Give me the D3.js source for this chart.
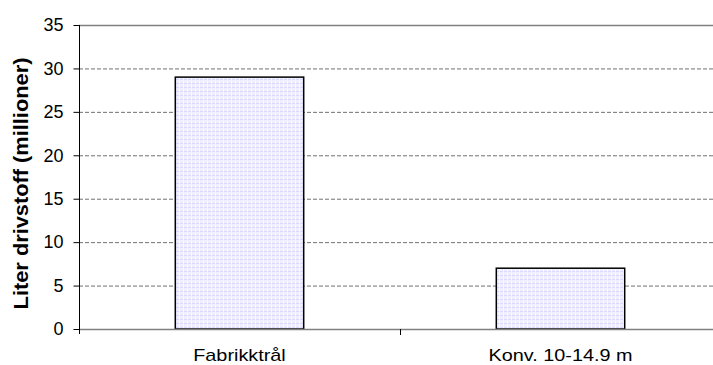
<!DOCTYPE html>
<html>
<head>
<meta charset="utf-8">
<script src="https://cdn.jsdelivr.net/npm/d3@7"></script>
<style>
  body { margin: 0; background: #fff; }
  svg { display: block; font-family: "Liberation Sans", Arial, sans-serif; }
</style>
</head>
<body>
<div id="chart"></div>
<script>
var categories = ["Fabrikktrål", "Konv. 10-14.9 m"];
var values = [29, 7];
var yTicks = [0, 5, 10, 15, 20, 25, 30, 35];
var yTitle = "Liter drivstoff (millioner)";

var svg = d3.select("#chart")
            .append("svg")
            .attr("width", 713)
            .attr("height", 365);

var margin = {top: 25, left: 79, bottom: 36},
    plotRight = 721,
    plotBottom = 365 - margin.bottom;

var x = d3.scaleBand().domain(categories).range([margin.left, plotRight]).padding(0);
var y = d3.scaleLinear().domain([0, 35]).range([plotBottom, margin.top]);

// bar fill pattern (light lavender grid)
var defs = svg.append("defs");
var pat = defs.append("pattern")
  .attr("id", "grid")
  .attr("patternUnits", "userSpaceOnUse")
  .attr("width", 4).attr("height", 4);
pat.append("rect").attr("width", 4).attr("height", 4).attr("fill", "#eeeeff");
pat.append("rect").attr("x", 0).attr("y", 3).attr("width", 4).attr("height", 1).attr("fill", "#dadaff");
pat.append("rect").attr("x", 3).attr("y", 0).attr("width", 1).attr("height", 4).attr("fill", "#f8f8ff");

// gridlines
svg.append("g")
  .selectAll("line")
  .data(yTicks.filter(function(d) { return d > 0 && d < 35; }))
  .enter()
  .append("line")
  .attr("x1", margin.left).attr("x2", plotRight)
  .attr("y1", function(d) { return y(d) + 0.5; })
  .attr("y2", function(d) { return y(d) + 0.5; })
  .attr("stroke", "#707070")
  .attr("stroke-dasharray", "4,2");

// top border
svg.append("line")
  .attr("x1", margin.left).attr("x2", plotRight)
  .attr("y1", y(35) + 0.5).attr("y2", y(35) + 0.5)
  .attr("stroke", "#808080").attr("stroke-width", 1.5);

// bars
var barW = x.bandwidth() * 0.4;
svg.append("g")
  .selectAll("rect")
  .data(values)
  .enter()
  .append("rect")
  .attr("x", function(d, i) { return x(categories[i]) + (x.bandwidth() - barW) / 2; })
  .attr("y", function(d) { return y(d); })
  .attr("width", barW)
  .attr("height", function(d) { return y(0) - y(d); })
  .attr("fill", "url(#grid)")
  .attr("stroke", "#000")
  .attr("stroke-width", 1.5);

// x axis baseline
svg.append("line")
  .attr("x1", margin.left).attr("x2", plotRight)
  .attr("y1", y(0) + 0.5).attr("y2", y(0) + 0.5)
  .attr("stroke", "#808080").attr("stroke-width", 1.5);

// x ticks between categories
svg.append("g")
  .selectAll("line")
  .data(categories.slice(1))
  .enter()
  .append("line")
  .attr("x1", function(d) { return x(d) + 0.5; })
  .attr("x2", function(d) { return x(d) + 0.5; })
  .attr("y1", y(0)).attr("y2", y(0) + 6)
  .attr("stroke", "#000");

// category labels (source image is stretched horizontally)
svg.append("g")
  .selectAll("text")
  .data(categories)
  .enter()
  .append("text")
  .attr("transform", function(d) {
    return "translate(" + (x(d) + x.bandwidth() / 2) + ",361) scale(1.24,1)";
  })
  .attr("text-anchor", "middle")
  .attr("font-size", 16)
  .attr("fill", "#000")
  .text(function(d) { return d; });

// y axis
var yAxis = d3.axisLeft(y).tickValues(yTicks).tickSize(6).tickPadding(10);
var ga = svg.append("g")
  .attr("transform", "translate(" + (margin.left + 0.5) + ",0)")
  .call(yAxis);
ga.select(".domain").remove();
ga.selectAll(".tick line").attr("stroke", "#000");
ga.selectAll(".tick text")
  .attr("font-size", 18)
  .attr("font-family", "Liberation Sans, Arial, sans-serif")
  .attr("fill", "#000");
svg.append("line")
  .attr("x1", margin.left + 0.5).attr("x2", margin.left + 0.5)
  .attr("y1", y(35)).attr("y2", y(0) + 5)
  .attr("stroke", "#000");

// y title
svg.append("text")
  .attr("transform", "translate(28,183.5) rotate(-90) scale(1.09,1)")
  .attr("text-anchor", "middle")
  .attr("font-size", 20)
  .attr("font-weight", "bold")
  .attr("fill", "#000")
  .text(yTitle);
</script>
</body>
</html>
